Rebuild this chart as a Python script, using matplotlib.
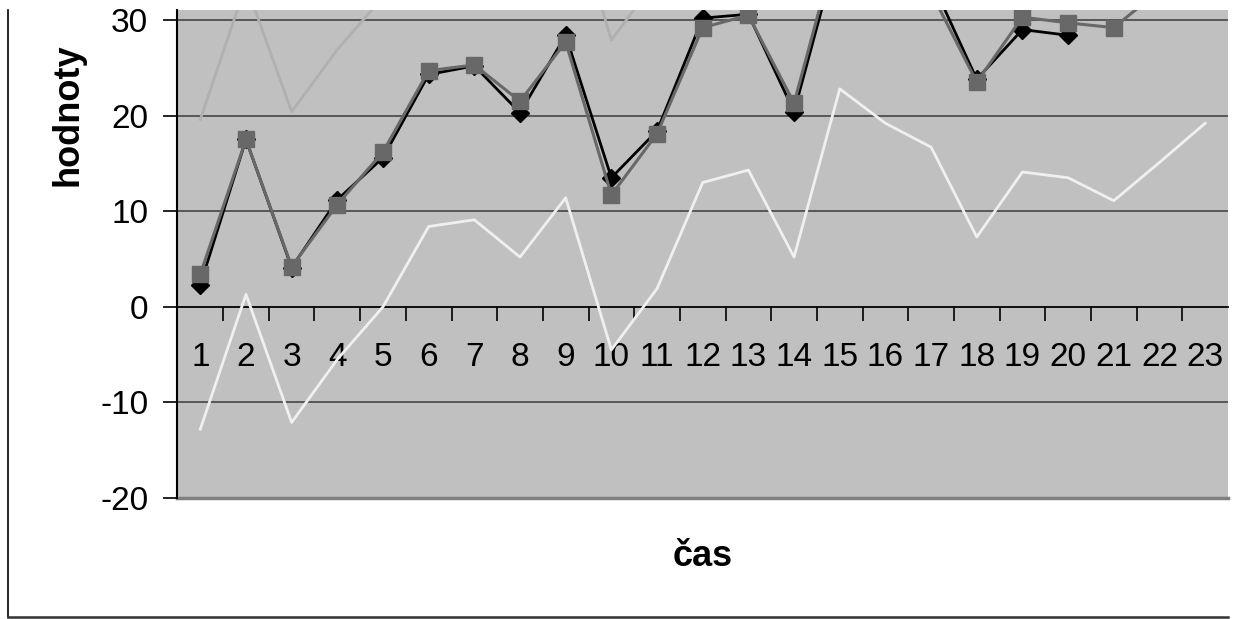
# Importing the necessary libraries
import matplotlib.pyplot as plt
from matplotlib.lines import Line2D

# Data
cas = list(range(1, 24))
skutecnost = [2.3, 17.5, 4.1, 11.2, 15.6, 24.3, 25.2, 20.3, 28.4, 13.5, 18.4, 30.2, 30.6, 20.4,
              38.1, 36.0, 34.2, 23.8, 29.0, 28.4]
model = [3.4, 17.5, 4.2, 10.7, 16.2, 24.7, 25.3, 21.5, 27.7, 11.7, 18.1, 29.2, 30.5, 21.3,
         39.0, 35.4, 32.9, 23.5, 30.3, 29.7, 29.2, 33.1, 37.5]
horni_mez = [19.6, 33.7, 20.4, 26.9, 32.4, 40.9, 41.5, 37.7, 43.9, 27.9, 34.3, 45.4, 46.7, 37.5,
             55.2, 51.6, 49.1, 39.7, 46.5, 45.9, 47.3, 51.1, 56.0]
dolni_mez = [-12.8, 1.3, -12.1, -5.5, 0.0, 8.4, 9.1, 5.2, 11.4, -4.5, 1.9, 13.0, 14.3, 5.2,
             22.8, 19.2, 16.7, 7.3, 14.1, 13.5, 11.1, 15.1, 19.2]
y_ticks = [-20, -10, 0, 10, 20, 30]

plt.rcParams['font.family'] = ['Liberation Sans', 'DejaVu Sans']
plt.rcParams['axes.unicode_minus'] = False

fig = plt.figure(figsize=(12.41, 6.19), dpi=100)
ax = fig.add_axes([0.1430, 0.1955, 0.8465, 0.7884])
ax.set_facecolor('#C0C0C0')

# Gridlines
for v in y_ticks[1:]:
    if v != 0:
        ax.axhline(v, color='#3A3A3A', lw=1.1, zorder=1)
ax.axhline(-20, color='#808080', lw=2.5, zorder=1, clip_on=False)

# Series
ax.plot(cas, horni_mez, color='#B0B0B0', lw=2.0, zorder=2)
ax.plot(cas, dolni_mez, color='#F0F0F0', lw=2.0, zorder=2)
ax.plot(cas[:len(skutecnost)], skutecnost, color='black', lw=2.0, marker='D',
        markersize=9.5, zorder=3)
ax.plot(cas, model, color='#686868', lw=2.2, marker='s', markersize=11, zorder=4)

ax.set_xlim(0.5, 23.5)
ax.set_ylim(-20, 31.05)

# Category axis crossing at 0
ax.spines['bottom'].set_position(('data', 0))
ax.spines['bottom'].set_linewidth(1.3)
ax.spines['bottom'].set_zorder(1.5)
ax.spines['top'].set_visible(False)
ax.spines['right'].set_visible(False)
ax.spines['left'].set_linewidth(1.5)

ax.set_xticks(cas)
ax.set_xticklabels([str(c) for c in cas])
ax.set_xticks([c + 0.5 for c in cas[:-1]], minor=True)
ax.tick_params(axis='x', which='major', length=0, pad=25, labelsize=24)
ax.tick_params(axis='x', which='minor', length=10, width=1.2, direction='out')
ax.set_yticks(y_ticks)
ax.tick_params(axis='y', length=10, width=1.2, direction='out', pad=11, labelsize=24)

# Axis titles
fig.text(68 / 1241, 1 - 115 / 619, 'hodnoty', rotation=90, fontsize=26, fontweight='bold',
         ha='center', va='center')
fig.text(703 / 1241, 1 - 557 / 619, 'čas', fontsize=26, fontweight='bold',
         ha='center', va='center')

# Chart frame
fig.add_artist(Line2D([8 / 1241, 8 / 1241], [1 - 10 / 619, 1 - 617 / 619], color='black', lw=1.2))
fig.add_artist(Line2D([8 / 1241, 1228 / 1241], [1 - 617 / 619, 1 - 617 / 619], color='#333333', lw=1.8))

plt.savefig('out.png', dpi=100)
